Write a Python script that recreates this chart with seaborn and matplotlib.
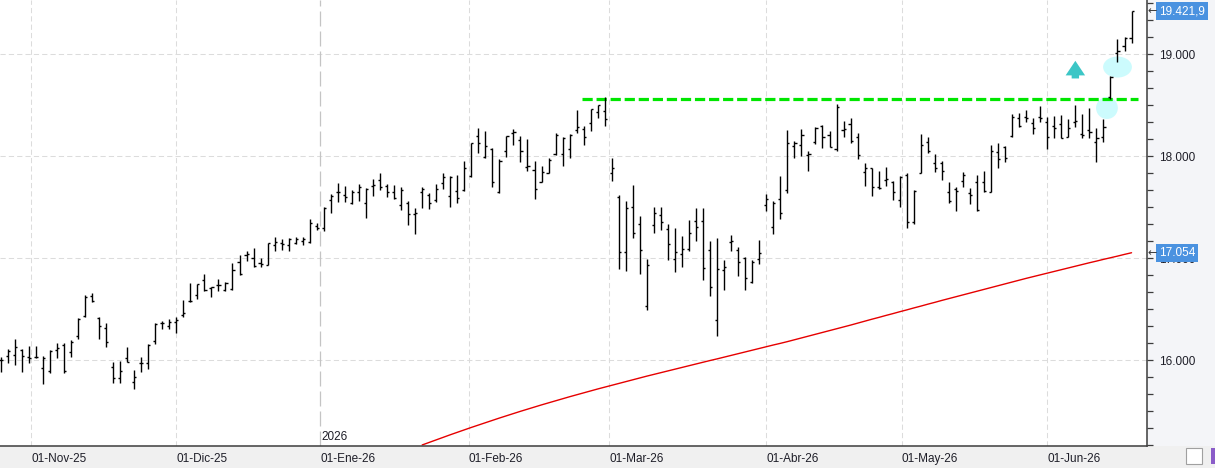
import numpy as np
import pandas as pd
import matplotlib
matplotlib.use('Agg')
import matplotlib.pyplot as plt
import seaborn as sns
from matplotlib.patches import Ellipse, Rectangle
from matplotlib.ticker import FixedLocator, MultipleLocator, FuncFormatter

# --- datos ---
festivos = ['2025-12-25', '2025-12-26', '2026-01-01', '2026-04-03', '2026-04-06', '2026-05-01']
meses = ['01-Nov-25', '01-Dic-25', '01-Ene-26', '01-Feb-26', '01-Mar-26', '01-Abr-26', '01-May-26', '01-Jun-26']

apertura = [16000, 16042, 16052, 16101, 16036, 16030, 15921, 15898, 16101, 16150,
            16078, 16238, 16434, 16630, 16418, 16313, 15931, 15830, 16020, 15790,
            15970, 15977, 16192, 16362, 16340, 16379, 16444, 16581, 16640, 16787,
            16705, 16738, 16689, 16695, 16960, 17029, 17003, 16950, 16934, 17130,
            17146, 17130, 17153, 17172, 17163, 17316, 17293, 17571, 17646, 17620,
            17538, 17653, 17545, 17708, 17767, 17708, 17653, 17522, 17538, 17430,
            17653, 17620, 17571, 17735, 17610, 17662, 17669, 17806, 18198, 17996,
            18068, 17653, 18051, 18224, 18159, 17898, 17865, 17751, 17839, 18022,
            18022, 18068, 18257, 18264, 18322, 18430, 18443, 17832, 17597, 17058,
            17499, 17332, 16532, 17326, 17424, 17283, 16993, 17038, 17087, 17365,
            17365, 17081, 16395, 16885, 17156, 17081, 17006, 16770, 16989, 17522,
            17310, 17577, 17669, 18100, 18110, 18012, 18143, 18296, 18208, 18067,
            18257, 18316, 18192, 17849, 17881, 17702, 17767, 17751, 17571, 17816,
            17352, 17839, 18143, 17930, 17930, 17646, 17675, 17760, 17636, 17751,
            17751, 17646, 18045, 18087, 18198, 18371, 18388, 18322, 18388, 18339,
            18296, 18316, 18185, 18339, 18218, 18257, 18143, 18192, 18584, 19015,
            19080, 19155]
maximo = [16036, 16107, 16206, 16107, 16140, 16140, 16042, 16101, 16166, 16166,
          16199, 16418, 16640, 16656, 16428, 16369, 15983, 15993, 16127, 15905,
          16029, 16160, 16362, 16388, 16401, 16421, 16591, 16754, 16748, 16843,
          16715, 16793, 16767, 16950, 17029, 17071, 17097, 16999, 17146, 17212,
          17186, 17202, 17205, 17212, 17385, 17342, 17499, 17626, 17741, 17708,
          17669, 17728, 17685, 17773, 17839, 17728, 17718, 17695, 17564, 17496,
          17702, 17643, 17728, 17839, 17806, 17816, 17956, 18133, 18273, 18250,
          18084, 17969, 18198, 18264, 18198, 18166, 17953, 17904, 17979, 18224,
          18185, 18218, 18453, 18296, 18460, 18502, 18577, 17979, 17620, 17561,
          17718, 17414, 16990, 17506, 17506, 17336, 17300, 17221, 17375, 17496,
          17496, 17172, 17202, 16983, 17228, 17113, 17016, 16983, 17179, 17630,
          17561, 17806, 18257, 18149, 18267, 18051, 18283, 18306, 18247, 18512,
          18345, 18371, 18231, 17937, 17881, 17855, 17891, 17757, 17806, 17832,
          17669, 18214, 18192, 18022, 17953, 17751, 17695, 17842, 17692, 17816,
          17858, 18110, 18133, 18100, 18410, 18420, 18453, 18371, 18492, 18388,
          18394, 18404, 18365, 18502, 18414, 18469, 18280, 18361, 18786, 19145,
          19165, 19422]
minimo = [15888, 15977, 15954, 15888, 15977, 16020, 15764, 15872, 16020, 15879,
          16036, 16206, 16428, 16575, 16206, 16134, 15774, 15774, 15983, 15722,
          15888, 15911, 16156, 16303, 16303, 16264, 16428, 16575, 16597, 16679,
          16617, 16679, 16679, 16689, 16833, 16973, 16911, 16911, 16934, 17074,
          17081, 17074, 17140, 17130, 17153, 17277, 17270, 17447, 17555, 17555,
          17528, 17564, 17398, 17613, 17669, 17597, 17581, 17473, 17326, 17238,
          17489, 17480, 17555, 17675, 17506, 17538, 17662, 17800, 18028, 17979,
          17695, 17643, 17996, 18110, 17947, 17855, 17577, 17744, 17832, 18012,
          17907, 17979, 18224, 18110, 18250, 18371, 18299, 17760, 16895, 16875,
          17202, 16842, 16493, 17251, 17277, 16983, 16868, 16911, 17071, 17172,
          16787, 16633, 16238, 16689, 17074, 16826, 16689, 16761, 16944, 17466,
          17234, 17385, 17643, 17979, 18005, 17858, 18117, 18084, 18087, 18054,
          18192, 18126, 17973, 17711, 17613, 17675, 17711, 17571, 17499, 17300,
          17332, 17832, 18035, 17849, 17767, 17545, 17466, 17702, 17528, 17463,
          17646, 17646, 17888, 17946, 18192, 18290, 18339, 18214, 18339, 18071,
          18182, 18175, 18185, 18283, 18182, 18175, 17947, 18143, 18561, 18927,
          19034, 19113]
cierre = [16000, 16094, 16134, 16042, 16020, 16036, 16020, 16094, 16117, 15895,
          16183, 16401, 16617, 16585, 16339, 16176, 15827, 15895, 15987, 15833,
          15974, 16147, 16356, 16369, 16375, 16395, 16467, 16585, 16748, 16689,
          16715, 16738, 16761, 16885, 16846, 17042, 16924, 16940, 17146, 17163,
          17140, 17186, 17186, 17186, 17349, 17293, 17489, 17613, 17646, 17597,
          17653, 17702, 17675, 17718, 17695, 17653, 17594, 17669, 17434, 17440,
          17675, 17545, 17675, 17793, 17793, 17587, 17885, 18126, 18126, 18100,
          17751, 17953, 18198, 18241, 18051, 17904, 17676, 17849, 17963, 18208,
          18175, 18208, 18283, 18185, 18460, 18502, 18361, 17881, 17058, 17489,
          17244, 17078, 16934, 17440, 17352, 17136, 17058, 17087, 17244, 17310,
          16901, 16721, 16891, 16911, 17169, 16960, 16803, 16966, 17048, 17577,
          17538, 17440, 18126, 18126, 18208, 18018, 18280, 18192, 18094, 18486,
          18267, 18149, 18009, 17881, 17695, 17685, 17777, 17646, 17793, 17358,
          17662, 18110, 18051, 17888, 17855, 17561, 17662, 17816, 17620, 17473,
          17662, 18051, 17973, 17979, 18388, 18296, 18372, 18273, 18371, 18192,
          18280, 18182, 18280, 18349, 18208, 18240, 18175, 18290, 18773, 19031,
          19162, 19421.9]

# media movil (roja), desde la sesion 60
media_inicio = 60
media = [15170, 15195, 15220, 15245, 15270, 15294, 15318, 15342, 15365, 15388,
         15411, 15434, 15456, 15478, 15500, 15521, 15542, 15563, 15583, 15603,
         15623, 15643, 15662, 15681, 15700, 15719, 15737, 15755, 15773, 15791,
         15809, 15827, 15845, 15862, 15879, 15896, 15913, 15930, 15947, 15964,
         15981, 15998, 16014, 16031, 16048, 16065, 16082, 16099, 16116, 16133,
         16150, 16166, 16183, 16201, 16219, 16237, 16255, 16273, 16291, 16309,
         16327, 16345, 16364, 16383, 16402, 16420, 16439, 16457, 16476, 16494,
         16513, 16531, 16550, 16568, 16587, 16605, 16623, 16641, 16659, 16677,
         16695, 16713, 16731, 16749, 16767, 16785, 16803, 16820, 16837, 16854,
         16871, 16888, 16905, 16922, 16939, 16956, 16972, 16989, 17005, 17021,
         17038, 17054]

resistencia = 18557
resistencia_desde = 83
ultimo_txt = '19.421,9'
media_txt = '17.054'

# --- sesiones ---
dias = pd.bdate_range('2025-10-27', '2026-06-17')
dias = dias[~dias.isin(pd.to_datetime(festivos))]
idx = np.arange(len(dias))
df = pd.DataFrame({'fecha': dias, 'open': apertura, 'high': maximo, 'low': minimo, 'close': cierre}, index=idx)
dfm = pd.DataFrame({'i': idx[media_inicio:], 'ma': media})

inicios = pd.date_range('2025-11-01', '2026-06-01', freq='MS')
pos_meses = np.interp([d.toordinal() for d in inicios], [d.toordinal() for d in dias], idx)

sns.set_theme(style='white')
plt.rcParams['font.family'] = ['Liberation Sans', 'DejaVu Sans']

fig = plt.figure(figsize=(12.15, 4.68), dpi=100, facecolor='#f0f0f0')
ax = fig.add_axes([0, 22.3 / 468, 1147 / 1215, 445.7 / 468])
ax.set_facecolor('white')
fig.add_artist(Rectangle((1147 / 1215, 22.3 / 468), 68 / 1215, 445.7 / 468,
                         transform=fig.transFigure, fc='#f4f5f8', ec='none', zorder=-1))

# rejilla
for v in [16000, 17000, 18000, 19000]:
    ax.axhline(v, color='#dcdcdc', lw=0.75, ls=(0, (5, 3)), zorder=0)
for k, p in enumerate(pos_meses):
    if meses[k] == '01-Ene-26':
        ax.axvline(p, color='#c4c4c4', lw=0.9, ls=(0, (12, 4)), zorder=0)
    else:
        ax.axvline(p, color='#dcdcdc', lw=0.75, ls=(0, (5, 3)), zorder=0)

# marcas cian
ax.add_patch(Ellipse((159, 18874), 4.1, 206, fc='#ccfbfd', ec='none', zorder=1))
ax.add_patch(Ellipse((157.5, 18473), 3.1, 216, fc='#ccfbfd', ec='none', zorder=1))
ax.annotate('', xy=(153, 18935), xytext=(153, 18762),
            arrowprops=dict(arrowstyle='simple,head_width=1.0,head_length=0.75,tail_width=0.38',
                            color='#3cc6c6', lw=0, mutation_scale=14, shrinkA=0, shrinkB=0), zorder=2)

# resistencia
ax.plot([resistencia_desde - 0.2, idx[-1] + 0.9], [resistencia, resistencia],
        color='#00e600', lw=2.3, ls=(0, (3.2, 1.2)), zorder=2)

# media movil
sns.lineplot(data=dfm, x='i', y='ma', ax=ax, color='#e60000', lw=1.0, zorder=2)

# barras OHLC
kw = dict(color='black', lw=1.0, zorder=3, snap=True)
ax.vlines(df.index, df['low'], df['high'], **kw)
ax.hlines(df['open'], df.index - 0.3, df.index, **kw)
ax.hlines(df['close'], df.index, df.index + 0.3, **kw)

ax.set_xlim(-0.1, 163.2)
ax.set_ylim(15163, 19531)
ax.set_xlabel('')
ax.set_ylabel('')

for s in ['top', 'left']:
    ax.spines[s].set_visible(False)
for s in ['right', 'bottom']:
    ax.spines[s].set_color('#3c3c3c')
    ax.spines[s].set_linewidth(1.1)

ax.yaxis.tick_right()
ax.yaxis.set_major_locator(FixedLocator([16000, 17000, 18000, 19000]))
ax.yaxis.set_minor_locator(MultipleLocator(1000 / 6))
ax.yaxis.set_major_formatter(FuncFormatter(lambda v, p: f'{v:,.0f}'.replace(',', '.')))
ax.tick_params(axis='y', which='both', direction='out', length=4.5, width=0.9,
               color='#3c3c3c', labelsize=8.5, labelcolor='#1e1e28', pad=4)

ax.set_xticks(pos_meses)
ax.set_xticklabels(meses, ha='left')
ax.tick_params(axis='x', which='major', direction='out', length=5, width=0.9,
               color='#3c3c3c', labelsize=8.5, labelcolor='#1e1e28', pad=0.5)

ax.text(pos_meses[2] + 0.2, 15190, '2026', fontsize=8.5, color='#1e1e28', ha='left', va='bottom')

# etiquetas de precio
for val, txt in [(cierre[-1], ultimo_txt), (media[-1], media_txt)]:
    ax.annotate(txt, xy=(1, val), xycoords=('axes fraction', 'data'), xytext=(8.5, 0),
                textcoords='offset points', va='center', ha='left', color='white', fontsize=8.5,
                bbox=dict(boxstyle='square,pad=0.25', fc='#4a92e0', ec='none'),
                annotation_clip=False, zorder=5)
    ax.annotate('\u2190', xy=(1, val), xycoords=('axes fraction', 'data'), xytext=(0.5, 0),
                textcoords='offset points', va='center', ha='left', color='#333333', fontsize=8,
                family='DejaVu Sans', annotation_clip=False, zorder=6)

# iconos abajo a la derecha
fig.add_artist(Rectangle((1186 / 1215, 4 / 468), 16 / 1215, 16 / 468, transform=fig.transFigure,
                         fc='white', ec='#a0a0a0', lw=0.8))
fig.add_artist(Rectangle((1211 / 1215, 4 / 468), 4 / 1215, 16 / 468, transform=fig.transFigure,
                         fc='#8a5cc8', ec='none'))

fig.savefig('out.png', dpi=100, facecolor=fig.get_facecolor())
